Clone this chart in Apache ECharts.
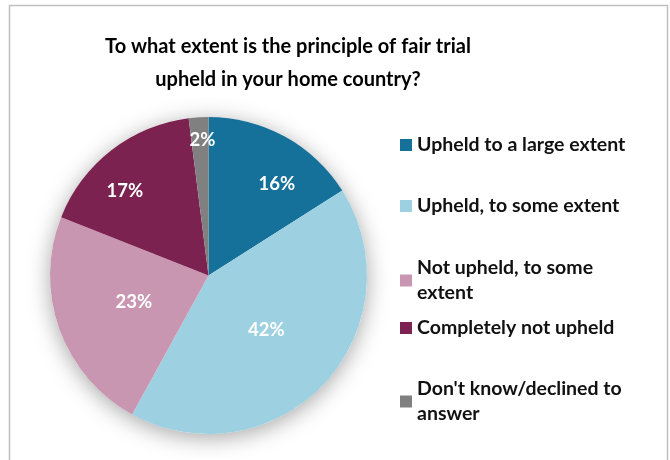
<!DOCTYPE html>
<html>
<head>
<meta charset="utf-8">
<script src="https://cdn.jsdelivr.net/npm/echarts@6/dist/echarts.min.js"></script>
<style>
  html, body { margin: 0; padding: 0; background: #fff; }
  #chart { width: 670px; height: 460px; }
</style>
</head>
<body>
<div id="chart"></div>
<script>
// Survey answers and their shares (percent)
const categories = [
  'Upheld to a large extent',
  'Upheld, to some extent',
  'Not upheld, to some\nextent',
  'Completely not upheld',
  "Don't know/declined to\nanswer"
];
const shares = [16, 42, 23, 17, 2];
const colors = ['#15709A', '#9DD1E1', '#C996B2', '#7B2250', '#808080'];
// Where each percentage sits: fraction of the radius, and turn (degrees) from the slice middle
const labelRadius = [0.72, 0.5, 0.5, 0.75, 0.855];
const labelTurn = [8, 0, 0, -7, 1];

const titleText = 'To what extent is the principle of fair trial\nupheld in your home country?';

const FONT = 'Lato, "Open Sans", sans-serif';
const CX = 208.5, CY = 275.5, R = 158.5;

const chart = echarts.init(document.getElementById('chart'), null, { renderer: 'canvas' });

// Each legend entry is placed on its own row
const legendRows = [145, 206, 268, 328, 389];
const legends = categories.map((name, i) => {
  const twoLines = name.indexOf('\n') >= 0;
  return {
    data: [name],
    orient: 'vertical',
    left: 400,
    top: legendRows[i] - (twoLines ? 25 : 12.5),
    padding: 0,
    itemWidth: 12,
    itemHeight: 12,
    itemGap: 0,
    icon: 'rect',
    selectedMode: false,
    textStyle: {
      fontFamily: FONT,
      fontWeight: 'bold',
      fontSize: 19.5,
      color: '#111',
      lineHeight: 25,
      padding: twoLines ? [25, 0, 0, 0] : 0
    }
  };
});

const option = {
  animation: false,
  color: colors,
  title: {
    text: titleText,
    left: 283,
    textAlign: 'center',
    top: 25,
    textStyle: {
      fontFamily: FONT,
      fontWeight: 'bold',
      fontSize: 20,
      lineHeight: 33,
      color: '#000'
    }
  },
  legend: legends,
  graphic: [{
    type: 'rect',
    silent: true,
    shape: { x: 9.5, y: 5.5, width: 658, height: 470 },
    style: { fill: 'none', stroke: '#BFBFBF', lineWidth: 1.5 },
    z: -10
  }],
  series: [
    {
      // soft drop shadow behind the pie
      type: 'pie',
      silent: true,
      center: [CX, CY],
      radius: R,
      label: { show: false },
      labelLine: { show: false },
      itemStyle: {
        color: '#fff',
        shadowBlur: 22,
        shadowColor: 'rgba(0,0,0,0.35)',
        shadowOffsetX: 0,
        shadowOffsetY: 4
      },
      data: [{ value: 1, name: '' }],
      z: 1
    },
    {
      type: 'pie',
      center: [CX, CY],
      radius: R,
      startAngle: 90,
      clockwise: true,
      silent: true,
      data: categories.map((name, i) => ({ name: name, value: shares[i] })),
      label: {
        show: true,
        position: 'inside',
        formatter: '{c}%',
        fontFamily: FONT,
        fontWeight: 'bold',
        fontSize: 18.5,
        color: '#fff'
      },
      labelLine: { show: false },
      labelLayout: function (params) {
        // move the label to its own radius and angle around the pie centre
        const r = params.labelRect;
        const lx = r.x + r.width / 2, ly = r.y + r.height / 2;
        const ang = Math.atan2(lx - CX, CY - ly) + labelTurn[params.dataIndex] * Math.PI / 180;
        const dist = labelRadius[params.dataIndex] * R;
        const tx = CX + dist * Math.sin(ang), ty = CY - dist * Math.cos(ang);
        return { dx: tx - lx, dy: ty - ly };
      },
      z: 2
    }
  ]
};

chart.setOption(option);
</script>
</body>
</html>
